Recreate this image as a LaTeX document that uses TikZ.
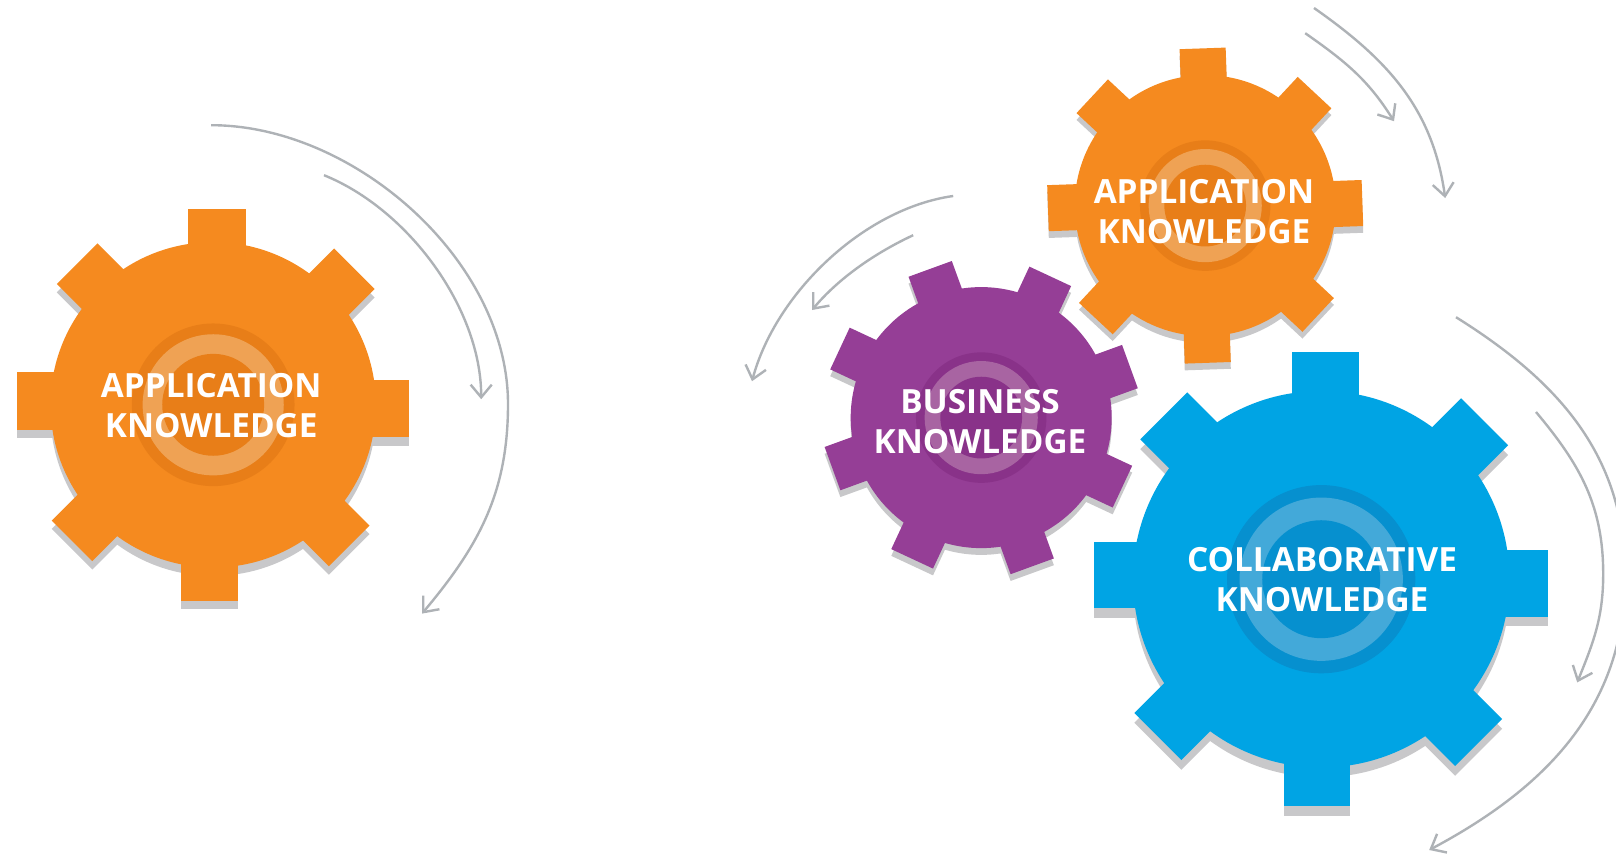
\documentclass[tikz,border=0pt]{standalone}
\usepackage{fontspec}
\setmainfont{Open Sans}
\usetikzlibrary{arrows.meta}
\definecolor{shadowgrey}{RGB}{200,200,202}
\definecolor{swirl}{RGB}{174,178,182}
\definecolor{ora}{RGB}{245,138,31}
\definecolor{oradark}{RGB}{232,126,24}
\definecolor{oralight}{RGB}{239,162,84}
\definecolor{pur}{RGB}{149,62,150}
\definecolor{purdark}{RGB}{137,50,137}
\definecolor{purlight}{RGB}{168,100,162}
\definecolor{blu}{RGB}{0,164,228}
\definecolor{bludark}{RGB}{6,144,207}
\definecolor{blulight}{RGB}{67,169,217}
\tikzset{
    gearlabel/.style={text=white,align=center,font=\bfseries\fontsize{23.7}{28.45}\selectfont},
    swirlline/.style={swirl,line width=1.7pt,-{Straight Barb[length=9pt,width=15pt,line width=1.7pt]}}
}
% x, y, radius, rotation, colour
\newcommand{\gearshape}[5]{
    \begin{scope}[shift={(#1,#2)},rotate=#4,scale=#3]
        \fill[#5] (0,0) circle (0.83);
        \foreach \a in {0,45,...,315}{
            \fill[#5,rotate=\a] (0.6,-0.165) rectangle (1,0.128);
        }
    \end{scope}
}
% x, y, radius, rotation, colour name
\newcommand{\gearfull}[5]{
    \gearshape{#1}{#2-0.043*#3}{#3}{#4}{shadowgrey}
    \gearshape{#1}{#2}{#3}{#4}{#5}
    \fill[#5dark] (#1,#2) circle ({0.415*#3});
    \fill[#5light] (#1,#2) circle ({0.36*#3});
    \fill[#5dark] (#1,#2) circle ({0.26*#3});
}
\begin{document}
\begin{tikzpicture}
    \useasboundingbox (0,0) rectangle (40.4,-21.45);
    \fill[white] (0,0) rectangle (40.4,-21.45);
    % gears
    \gearfull{5.33}{-10.12}{4.9}{0}{ora}
    \gearfull{30.13}{-5.14}{3.93}{2}{ora}
    \gearfull{24.53}{-10.44}{3.93}{20}{pur}
    \gearfull{33.03}{-14.48}{5.67}{0}{blu}
    % labels
    \node[gearlabel] (app1) at (5.28,-10.14) {APPLICATION\\KNOWLEDGE};
    \node[gearlabel] (app2) at (30.1,-5.28) {APPLICATION\\KNOWLEDGE};
    \node[gearlabel] (bus) at (24.5,-10.53) {BUSINESS\\KNOWLEDGE};
    \node[gearlabel] (col) at (33.05,-14.5) {COLLABORATIVE\\KNOWLEDGE};
    % rotation arrows
    \coordinate (a1) at (5.28,-3.13);
    \coordinate (a2) at (12.7,-10.1);
    \coordinate (a3) at (10.55,-15.34);
    \coordinate (b1) at (8.1,-4.38);
    \coordinate (b2) at (12.03,-9.98);
    \coordinate (c1) at (32.85,-0.2);
    \coordinate (c2) at (36.13,-4.95);
    \coordinate (d1) at (32.63,-0.83);
    \coordinate (d2) at (34.85,-3.03);
    \coordinate (e1) at (23.83,-4.9);
    \coordinate (e2) at (18.8,-9.53);
    \coordinate (f1) at (22.83,-5.88);
    \coordinate (f2) at (20.3,-7.75);
    \coordinate (g1) at (36.4,-7.93);
    \coordinate (g2) at (40.63,-14.4);
    \coordinate (g3) at (35.73,-21.25);
    \coordinate (h1) at (38.4,-10.3);
    \coordinate (h2) at (40.08,-14.35);
    \coordinate (h3) at (39.43,-17.06);
    \draw[swirlline] (a1) to[out=0,in=90,looseness=0.9] (a2) to[out=-90,in=50] (a3);
    \draw[swirlline] (b1) to[out=-22,in=90,looseness=0.85] (b2);
    \draw[swirlline] (c1) to[out=-35,in=98] (c2);
    \draw[swirlline] (d1) to[out=-35,in=122] (d2);
    \draw[swirlline] (e1) to[out=188,in=75,looseness=0.85] (e2);
    \draw[swirlline] (f1) to[out=205,in=50,looseness=0.85] (f2);
    \draw[swirlline] (g1) to[out=-32,in=90] (g2) to[out=-90,in=28] (g3);
    \draw[swirlline] (h1) to[out=-50,in=90] (h2) to[out=-90,in=68] (h3);
\end{tikzpicture}
\end{document}
